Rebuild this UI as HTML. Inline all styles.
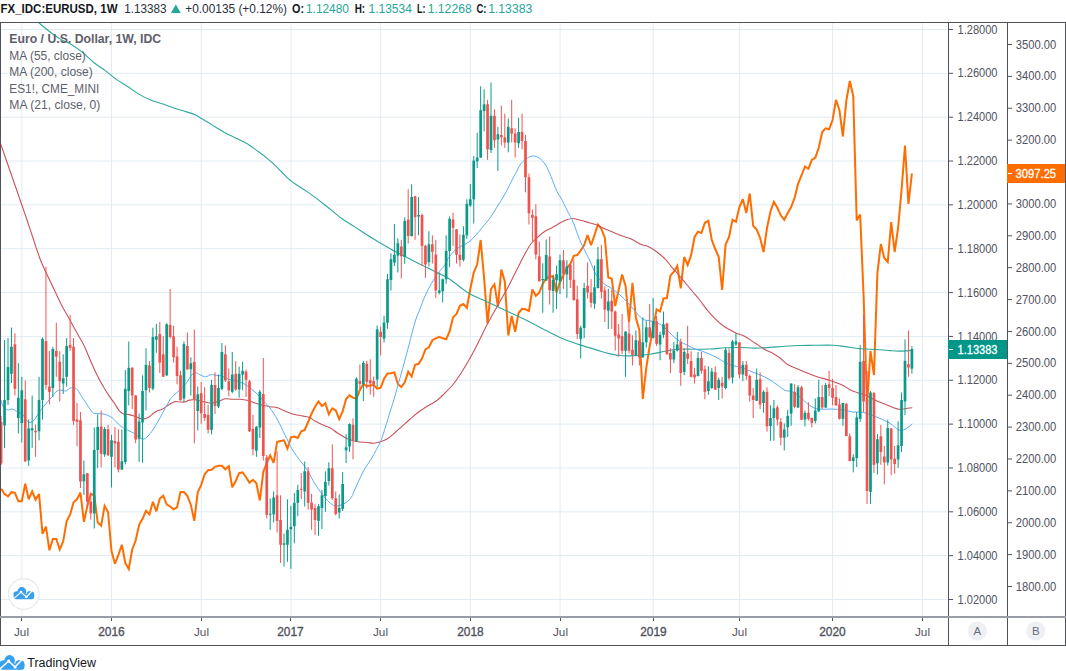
<!DOCTYPE html>
<html><head><meta charset="utf-8"><title>EURUSD 1W chart</title>
<style>
html,body{margin:0;padding:0;background:#fff;}
body{width:1066px;height:671px;overflow:hidden;position:relative;}
svg{position:absolute;left:0;top:0;display:block;}
text{font-family:'Liberation Sans', Arial, sans-serif;}
</style></head><body>
<svg width="1066" height="671" viewBox="0 0 1066 671">
<rect x="0" y="0" width="1066" height="671" fill="#ffffff"/>

<defs><clipPath id="pane"><rect x="1" y="23" width="947" height="594"/></clipPath></defs>
<g stroke="#e1ecf2" stroke-width="1"><line x1="1" y1="29.50" x2="948" y2="29.50"/><line x1="1" y1="73.35" x2="948" y2="73.35"/><line x1="1" y1="117.19" x2="948" y2="117.19"/><line x1="1" y1="161.04" x2="948" y2="161.04"/><line x1="1" y1="204.88" x2="948" y2="204.88"/><line x1="1" y1="248.73" x2="948" y2="248.73"/><line x1="1" y1="292.58" x2="948" y2="292.58"/><line x1="1" y1="336.42" x2="948" y2="336.42"/><line x1="1" y1="380.27" x2="948" y2="380.27"/><line x1="1" y1="424.11" x2="948" y2="424.11"/><line x1="1" y1="467.96" x2="948" y2="467.96"/><line x1="1" y1="511.81" x2="948" y2="511.81"/><line x1="1" y1="555.65" x2="948" y2="555.65"/><line x1="1" y1="599.50" x2="948" y2="599.50"/><line x1="21.85" y1="23" x2="21.85" y2="617"/><line x1="111.55" y1="23" x2="111.55" y2="617"/><line x1="201.25" y1="23" x2="201.25" y2="617"/><line x1="290.95" y1="23" x2="290.95" y2="617"/><line x1="380.65" y1="23" x2="380.65" y2="617"/><line x1="470.35" y1="23" x2="470.35" y2="617"/><line x1="560.05" y1="23" x2="560.05" y2="617"/><line x1="653.20" y1="23" x2="653.20" y2="617"/><line x1="739.45" y1="23" x2="739.45" y2="617"/><line x1="832.60" y1="23" x2="832.60" y2="617"/><line x1="922.30" y1="23" x2="922.30" y2="617"/></g>
<g clip-path="url(#pane)">
<polyline points="1.10,488.8 4.55,494.0 8.00,496.3 11.45,492.2 14.90,492.8 18.35,501.2 21.80,501.2 25.25,483.8 28.70,499.3 32.15,491.3 35.60,499.7 39.05,494.0 42.50,533.8 45.95,526.7 49.40,550.3 52.85,539.0 56.30,539.0 59.75,549.5 63.20,541.3 66.65,521.0 70.10,514.7 73.55,502.3 77.00,499.3 80.45,492.5 83.90,521.8 87.35,506.0 90.80,494.0 94.25,495.0 97.70,522.5 101.15,525.8 104.60,506.0 108.05,512.0 111.50,551.0 114.95,563.8 118.40,554.8 121.85,544.7 125.30,563.0 128.75,569.0 132.20,549.5 135.65,540.5 139.10,524.8 142.55,518.8 146.00,510.8 149.45,514.3 152.90,501.8 156.35,511.3 159.80,498.5 163.25,495.7 166.70,504.3 170.15,506.5 173.60,509.2 177.05,507.3 180.50,492.0 183.95,492.0 187.40,496.0 190.85,505.0 194.30,520.8 197.75,492.3 201.20,484.8 204.65,474.3 208.10,470.2 211.55,469.8 215.00,466.8 218.45,465.7 221.90,465.7 225.35,469.3 228.80,466.3 232.25,487.3 235.70,481.0 239.15,473.2 242.60,472.3 246.05,477.3 249.50,482.8 252.95,479.8 256.40,483.3 259.85,500.5 263.30,472.0 266.75,463.0 270.20,455.3 273.65,462.8 277.10,441.8 280.55,441.0 284.00,440.3 287.45,448.5 290.90,437.3 294.35,436.5 297.80,438.0 301.25,431.3 304.70,430.0 308.15,422.0 311.60,413.5 315.05,406.8 318.50,401.5 321.95,406.0 325.40,403.3 328.85,414.3 332.30,408.3 335.75,410.5 339.20,419.2 342.65,411.3 346.10,399.0 349.55,395.3 353.00,397.6 356.45,399.0 359.90,390.0 363.35,384.0 366.80,386.3 370.25,385.5 373.70,384.8 377.15,388.6 380.60,387.8 384.05,378.8 387.50,373.5 390.95,373.2 394.40,372.5 397.85,384.0 401.30,387.0 404.75,382.3 408.20,371.7 411.65,376.5 415.10,364.8 418.55,363.8 422.00,358.5 425.45,349.5 428.90,347.3 432.35,340.2 435.80,338.3 439.25,336.8 442.70,338.3 446.15,339.3 449.60,331.5 453.05,317.4 456.50,314.0 459.95,305.8 463.40,304.0 466.85,307.8 470.30,289.0 473.75,272.5 477.20,264.3 480.65,240.0 484.10,278.0 487.55,323.5 491.00,289.0 494.45,284.2 497.90,306.3 501.35,269.5 504.80,281.5 508.25,335.5 511.70,316.0 515.15,331.8 518.60,313.0 522.05,308.8 525.50,309.3 528.95,311.0 532.40,289.5 535.85,295.8 539.30,292.5 542.75,284.0 546.20,278.3 549.65,277.0 553.10,276.0 556.55,292.5 560.00,282.0 563.45,275.0 566.90,267.8 570.35,264.0 573.80,255.8 577.25,255.0 580.70,250.5 584.15,245.0 587.60,235.0 591.05,245.3 594.50,235.0 597.95,224.5 601.40,229.0 604.85,238.0 608.30,277.5 611.75,278.7 615.20,306.0 618.65,290.0 622.10,274.5 625.55,285.8 629.00,321.8 632.45,282.8 635.90,318.0 639.35,330.0 642.80,399.0 646.25,368.0 649.70,346.0 653.15,328.0 656.60,309.3 660.05,311.5 663.50,298.5 666.95,298.0 670.40,275.7 673.85,271.7 677.30,265.9 680.75,288.3 684.20,257.0 687.65,265.0 691.10,255.2 694.55,237.0 698.00,231.8 701.45,232.9 704.90,222.8 708.35,220.8 711.80,240.0 715.25,249.0 718.70,257.0 722.15,290.0 725.60,244.5 729.05,237.0 732.50,219.8 735.95,221.7 739.40,207.0 742.85,199.2 746.30,213.0 749.75,193.5 753.20,225.8 756.65,229.5 760.10,237.8 763.55,252.0 767.00,228.0 770.45,211.5 773.90,201.8 777.35,207.8 780.80,215.3 784.25,219.8 787.70,213.0 791.15,207.0 794.60,198.0 798.05,183.8 801.50,175.5 804.95,166.5 808.40,168.8 811.85,160.0 815.30,157.6 818.75,147.8 822.20,132.0 825.65,128.3 829.10,129.3 832.55,120.0 836.00,99.8 839.45,110.3 842.90,136.5 846.35,100.5 849.80,81.0 853.25,96.0 856.70,220.5 860.15,214.5 863.60,296.0 867.05,405.0 870.50,351.0 873.95,375.0 877.40,273.0 880.85,244.0 884.30,258.0 887.75,262.0 891.20,222.0 894.65,252.0 898.10,228.0 901.55,190.0 905.00,145.5 908.45,204.0 911.90,173.5" fill="none" stroke="#ff6d00" stroke-width="2" stroke-linejoin="miter" stroke-miterlimit="3"/>
<path d="M38.0 22.0C38.6 22.5 39.5 23.3 41.5 25.0C43.5 26.7 46.9 29.7 50.0 32.0C53.1 34.3 56.5 36.8 60.0 38.9C63.5 41.0 67.5 42.2 71.3 44.5C75.0 46.8 78.8 49.4 82.5 52.4C86.2 55.4 90.0 59.5 93.8 62.5C97.5 65.5 101.2 67.6 105.0 70.4C108.8 73.2 112.5 76.7 116.3 79.4C120.1 82.1 123.8 84.0 127.6 86.5C131.3 89.0 135.1 91.9 138.8 94.1C142.5 96.3 146.2 98.1 150.0 99.7C153.8 101.3 157.5 102.2 161.3 103.5C165.1 104.8 168.8 106.3 172.6 107.6C176.4 108.8 180.2 109.8 183.9 111.0C187.7 112.2 192.1 113.5 195.1 114.8C198.1 116.1 198.9 117.0 201.9 118.8C204.9 120.6 209.4 123.3 213.2 125.6C216.9 127.9 220.7 130.3 224.4 132.4C228.2 134.5 231.9 136.1 235.7 138.0C239.4 139.9 243.2 141.3 246.9 143.6C250.7 145.8 254.8 149.1 258.2 151.5C261.6 153.9 264.2 155.8 267.2 158.3C270.2 160.8 272.3 162.6 276.2 166.3C280.1 170.0 285.4 176.3 290.6 180.6C295.8 184.9 301.6 187.7 307.5 191.9C313.4 196.1 320.7 201.6 326.3 206.0C331.9 210.4 336.6 214.8 341.3 218.2C346.0 221.6 349.1 223.2 354.4 226.6C359.7 230.0 366.9 235.0 373.2 238.8C379.5 242.7 385.8 246.3 392.0 249.7C398.2 253.1 404.4 256.2 410.7 259.4C416.9 262.6 423.2 265.7 429.5 268.8C435.8 271.9 441.8 274.2 448.2 278.2C454.6 282.1 461.9 288.9 467.6 292.5C473.3 296.1 477.6 297.4 482.6 299.8C487.6 302.2 492.6 304.5 497.6 306.8C502.6 309.1 507.2 311.3 512.6 313.8C518.0 316.3 524.4 319.3 529.8 322.0C535.2 324.7 540.0 327.4 545.0 330.0C550.0 332.6 556.0 335.6 560.0 337.5C564.0 339.4 565.6 339.8 569.0 341.1C572.4 342.4 576.1 343.7 580.6 345.1C585.1 346.5 590.9 348.2 595.7 349.6C600.5 351.0 604.7 352.6 609.2 353.6C613.7 354.6 618.1 355.4 622.6 355.7C627.1 356.0 631.4 355.8 636.0 355.6C640.6 355.4 645.2 355.0 650.0 354.3C654.8 353.6 660.0 352.2 665.0 351.3C670.0 350.4 675.0 349.3 680.0 349.0C685.0 348.7 690.0 349.3 695.0 349.3C700.0 349.3 705.0 349.2 710.0 349.0C715.0 348.8 720.0 348.1 725.0 347.8C730.0 347.6 735.0 347.4 740.0 347.5C745.0 347.6 750.0 348.1 755.0 348.1C760.0 348.1 765.0 347.7 770.0 347.4C775.0 347.1 780.0 346.6 785.0 346.3C790.0 346.0 795.0 345.7 800.0 345.5C805.0 345.3 809.5 345.4 815.0 345.3C820.5 345.2 828.0 345.0 833.0 345.2C838.0 345.4 840.5 346.0 845.0 346.6C849.5 347.2 854.8 348.3 860.0 348.8C865.2 349.3 871.0 349.2 876.0 349.5C881.0 349.8 886.2 350.3 890.0 350.6C893.8 350.9 895.3 351.1 899.0 351.1C902.7 351.1 910.1 350.6 912.3 350.5" fill="none" stroke="#2fa89c" stroke-width="1.1"/>
<path d="M0.0 143.0C0.2 143.4 -0.8 139.9 1.2 145.5C3.2 151.1 8.6 166.9 11.9 176.3C15.2 185.8 18.4 194.9 20.9 202.2C23.4 209.5 25.0 214.0 27.0 220.0C29.0 226.0 30.8 231.3 33.0 238.0C35.2 244.7 38.2 254.1 40.5 260.0C42.8 265.9 44.2 268.6 46.5 273.5C48.8 278.4 51.5 284.1 54.0 289.3C56.5 294.6 59.0 300.1 61.5 305.0C64.0 309.9 66.5 314.0 69.0 318.5C71.5 323.0 74.0 327.5 76.5 332.0C79.0 336.5 81.8 341.0 84.0 345.6C86.2 350.2 87.8 354.4 90.0 359.5C92.2 364.6 95.0 371.0 97.5 376.0C100.0 381.0 102.9 386.0 105.0 389.5C107.1 393.0 108.4 394.8 110.0 397.1C111.6 399.4 113.0 401.3 114.5 403.5C116.0 405.7 117.5 408.6 119.0 410.3C120.5 412.1 122.0 413.3 123.5 414.0C125.0 414.7 126.2 414.1 128.0 414.4C129.8 414.7 132.0 415.2 134.0 415.9C136.0 416.6 138.2 417.9 140.0 418.4C141.8 418.9 143.0 419.1 144.5 418.9C146.0 418.7 147.5 417.9 149.0 417.0C150.5 416.1 152.0 414.4 153.5 413.3C155.0 412.2 156.5 411.3 158.0 410.6C159.5 409.9 161.0 409.9 162.5 409.1C164.0 408.4 165.5 407.1 167.0 406.1C168.5 405.1 170.1 403.9 171.5 403.1C172.9 402.4 173.8 401.8 175.3 401.6C176.8 401.4 178.9 401.9 180.5 402.0C182.1 402.1 183.5 402.3 185.0 402.0C186.5 401.7 187.8 400.5 189.5 400.1C191.2 399.7 192.8 399.6 195.0 399.8C197.2 400.0 200.0 401.0 202.5 401.5C205.0 402.0 207.5 402.9 210.0 403.0C212.5 403.1 215.0 402.5 217.5 401.8C220.0 401.1 222.5 399.2 225.0 398.8C227.5 398.4 230.0 399.2 232.5 399.3C235.0 399.4 237.6 399.1 240.0 399.3C242.4 399.5 244.5 399.7 247.0 400.3C249.5 400.9 252.4 402.2 255.0 403.0C257.6 403.8 260.1 404.6 262.6 405.2C265.1 405.8 267.5 406.3 270.0 406.7C272.5 407.1 275.1 407.1 277.6 407.8C280.1 408.5 282.5 410.0 285.0 411.0C287.5 412.0 290.1 413.2 292.6 414.0C295.1 414.8 297.3 414.9 300.0 415.5C302.7 416.1 306.5 416.4 309.0 417.3C311.5 418.2 312.8 419.8 315.0 421.0C317.2 422.2 320.0 423.7 322.5 424.8C325.0 425.9 327.5 426.4 330.0 427.8C332.5 429.2 335.0 431.4 337.5 433.0C340.0 434.6 342.5 436.2 345.0 437.5C347.5 438.8 350.0 439.8 352.5 440.5C355.0 441.2 357.5 441.7 360.0 442.0C362.5 442.3 365.2 442.3 367.5 442.5C369.8 442.7 371.5 443.3 373.5 443.2C375.5 443.1 377.2 442.7 379.5 442.0C381.8 441.3 384.5 440.5 387.0 439.0C389.5 437.5 392.1 435.1 394.6 433.0C397.1 430.9 399.5 428.6 402.0 426.3C404.5 424.1 406.8 421.9 409.6 419.5C412.4 417.1 415.6 414.2 418.6 412.0C421.6 409.8 424.6 407.9 427.6 406.0C430.6 404.1 434.2 402.6 436.6 400.8C439.1 399.1 439.5 398.3 442.3 395.5C445.1 392.7 449.8 388.7 453.5 384.0C457.2 379.3 461.0 373.4 464.7 367.3C468.4 361.2 472.2 354.3 475.9 347.2C479.6 340.1 483.3 331.9 487.0 324.8C490.7 317.7 494.5 311.4 498.2 304.7C501.9 298.0 505.7 291.7 509.4 284.6C513.1 277.5 517.2 268.7 520.6 262.2C524.0 255.7 527.0 249.7 529.8 245.5C532.6 241.3 535.0 239.7 537.5 237.3C540.0 234.9 542.5 232.9 545.0 231.3C547.5 229.7 550.0 228.9 552.5 227.5C555.0 226.1 557.8 224.2 560.0 223.0C562.2 221.8 563.8 220.8 566.0 220.0C568.2 219.2 570.8 218.4 573.5 218.5C576.2 218.6 579.8 220.1 582.5 220.8C585.2 221.6 587.5 222.2 590.0 223.0C592.5 223.8 595.1 224.3 597.6 225.3C600.1 226.3 602.5 227.9 605.0 229.0C607.5 230.1 609.8 230.9 612.6 232.0C615.4 233.1 618.6 234.7 621.6 235.8C624.6 236.9 627.4 237.4 630.6 238.8C633.8 240.2 638.2 243.3 641.0 244.5C643.8 245.7 645.4 245.4 647.5 246.2C649.6 247.0 651.5 248.2 653.5 249.5C655.5 250.8 657.5 252.4 659.5 254.0C661.5 255.6 663.5 257.2 665.5 259.3C667.5 261.4 669.5 264.4 671.5 266.8C673.5 269.2 675.2 270.9 677.5 273.5C679.8 276.1 682.5 279.5 685.0 282.5C687.5 285.5 690.0 288.5 692.5 291.5C695.0 294.5 697.5 297.4 700.0 300.5C702.5 303.6 705.0 307.3 707.5 310.3C710.0 313.3 712.5 316.1 715.0 318.6C717.5 321.1 720.1 323.4 722.6 325.3C725.1 327.2 727.6 328.6 730.0 330.0C732.4 331.4 734.6 332.4 737.0 333.5C739.4 334.6 741.6 334.7 744.6 336.3C747.6 337.9 751.8 340.9 755.0 343.0C758.2 345.1 761.0 347.2 764.0 349.0C767.0 350.8 770.3 352.0 773.0 353.5C775.7 355.0 777.5 356.1 780.0 358.0C782.5 359.9 784.7 362.8 788.0 364.8C791.3 366.8 795.5 368.1 800.0 370.0C804.5 371.9 810.0 374.2 815.0 376.0C820.0 377.8 825.5 379.0 830.0 380.5C834.5 382.0 838.5 383.4 842.0 385.0C845.5 386.6 848.5 389.1 851.0 390.3C853.5 391.6 854.5 391.6 857.0 392.5C859.5 393.4 863.0 394.2 866.0 395.5C869.0 396.8 872.0 398.6 875.0 400.0C878.0 401.4 881.0 402.6 884.0 403.8C887.0 405.1 890.5 406.6 893.0 407.5C895.5 408.4 897.0 409.1 899.0 409.3C901.0 409.5 902.8 408.9 905.0 408.7C907.2 408.4 911.1 407.9 912.3 407.8" fill="none" stroke="#c9535a" stroke-width="1.1"/>
<path d="M1.0 400.0C1.3 401.0 1.9 404.4 3.0 406.0C4.1 407.6 6.0 409.3 7.5 409.8C9.0 410.3 10.5 408.8 12.0 409.0C13.5 409.2 14.8 410.4 16.5 411.3C18.2 412.2 20.8 412.7 22.5 414.3C24.2 415.9 25.8 419.6 27.0 421.0C28.2 422.4 28.8 422.9 30.0 422.6C31.2 422.4 32.8 421.5 34.5 419.5C36.2 417.5 38.5 413.2 40.5 410.5C42.5 407.8 44.5 405.4 46.5 403.0C48.5 400.6 50.8 398.3 52.5 396.3C54.2 394.3 55.2 392.0 57.0 391.0C58.8 390.0 61.5 390.3 63.0 390.3C64.5 390.3 64.8 391.4 66.0 391.0C67.2 390.6 68.8 388.4 70.5 388.0C72.2 387.6 74.8 387.6 76.5 388.8C78.2 390.1 79.2 392.9 81.0 395.5C82.8 398.1 85.0 401.6 87.0 404.5C89.0 407.4 91.2 411.3 93.0 412.8C94.8 414.3 95.5 413.2 97.5 413.5C99.5 413.8 102.5 413.6 105.0 414.3C107.5 415.1 110.0 416.1 112.5 418.0C115.0 419.9 117.5 423.6 120.0 425.6C122.5 427.6 125.1 428.6 127.6 430.0C130.1 431.4 133.0 432.5 135.0 433.8C137.0 435.1 138.1 436.7 139.6 437.6C141.1 438.5 142.6 439.3 144.0 439.0C145.4 438.7 146.5 437.5 148.0 436.0C149.5 434.5 151.1 432.4 152.8 430.0C154.5 427.6 156.4 424.3 158.0 421.5C159.6 418.7 161.0 416.1 162.5 413.3C164.0 410.6 165.5 407.6 167.0 405.0C168.5 402.4 170.0 399.4 171.5 397.5C173.0 395.6 174.8 394.5 176.0 393.4C177.2 392.3 177.3 392.4 179.0 390.8C180.7 389.2 183.8 386.2 186.0 383.5C188.2 380.8 190.2 376.2 192.0 374.5C193.8 372.8 195.0 372.9 196.5 373.0C198.0 373.1 199.5 374.7 201.0 375.3C202.5 375.9 203.8 376.9 205.5 376.8C207.2 376.7 209.8 374.8 211.5 374.5C213.2 374.2 214.2 375.1 216.0 375.3C217.8 375.6 220.0 375.4 222.0 376.0C224.0 376.6 226.0 378.2 228.0 379.0C230.0 379.8 232.0 380.0 234.0 380.5C236.0 381.0 238.0 381.2 240.0 382.0C242.0 382.8 244.0 383.8 246.0 385.0C248.0 386.2 250.0 387.9 252.0 389.5C254.0 391.1 256.0 392.8 258.0 394.8C260.0 396.8 262.0 399.4 264.0 401.6C266.0 403.8 267.7 404.9 270.0 408.0C272.3 411.1 275.1 415.5 277.6 420.0C280.1 424.5 282.5 430.0 285.0 435.0C287.5 440.0 290.1 445.8 292.6 450.0C295.1 454.2 297.5 457.1 300.0 460.5C302.5 463.9 305.0 466.6 307.5 470.5C310.0 474.4 312.5 480.0 315.0 484.0C317.5 488.0 320.2 491.6 322.5 494.6C324.8 497.6 326.9 500.1 329.0 502.0C331.1 503.9 333.0 505.3 335.0 505.8C337.0 506.3 339.0 505.6 341.0 505.0C343.0 504.4 345.2 503.3 347.0 502.0C348.8 500.7 350.2 499.0 351.5 497.0C352.8 495.0 352.7 494.2 354.6 490.0C356.5 485.8 360.4 477.0 363.0 472.0C365.6 467.0 368.2 463.8 370.5 460.0C372.8 456.2 374.8 452.8 376.5 449.5C378.2 446.2 379.5 444.2 381.0 440.5C382.5 436.8 384.0 431.8 385.5 427.0C387.0 422.2 388.6 416.5 390.0 412.0C391.4 407.5 392.1 405.7 393.8 400.0C395.5 394.3 398.1 384.7 400.0 378.0C401.9 371.3 403.5 365.5 405.0 360.0C406.5 354.5 407.3 351.3 409.0 345.0C410.7 338.7 413.2 328.0 415.0 322.0C416.8 316.0 418.3 313.3 420.0 309.0C421.7 304.7 423.3 299.8 425.0 296.0C426.7 292.2 428.2 289.3 430.0 286.0C431.8 282.7 434.2 279.0 436.0 276.3C437.8 273.6 439.0 271.9 440.5 270.0C442.0 268.1 443.8 266.9 445.0 265.0C446.2 263.1 446.8 260.6 448.0 258.6C449.2 256.6 451.2 254.5 452.5 253.0C453.8 251.5 453.9 250.8 455.6 249.5C457.4 248.2 460.8 246.2 463.0 245.0C465.2 243.8 467.0 243.5 469.0 242.0C471.0 240.5 472.7 238.5 475.0 236.0C477.3 233.5 480.1 230.0 482.6 227.0C485.1 224.0 487.5 221.5 490.0 218.0C492.5 214.5 495.1 210.0 497.6 206.0C500.1 202.0 502.5 198.5 505.0 194.0C507.5 189.5 510.6 182.8 512.6 179.0C514.6 175.2 515.8 173.3 517.0 171.0C518.2 168.7 518.5 167.0 520.0 165.0C521.5 163.0 523.9 160.5 526.0 159.0C528.1 157.5 530.5 156.1 532.8 156.0C535.0 155.9 537.4 156.8 539.5 158.3C541.6 159.8 543.7 162.0 545.6 165.0C547.5 168.0 549.1 172.1 551.0 176.5C552.9 180.9 555.2 187.8 557.0 191.5C558.8 195.2 559.8 195.8 561.5 199.0C563.2 202.2 565.5 207.0 567.5 211.0C569.5 215.0 571.5 218.2 573.5 223.0C575.5 227.8 577.5 234.7 579.5 239.5C581.5 244.3 583.8 248.4 585.5 252.0C587.2 255.6 588.2 257.2 590.0 261.0C591.8 264.8 593.7 270.8 596.0 274.5C598.3 278.2 601.1 281.2 603.6 283.5C606.1 285.8 608.3 286.1 611.0 288.0C613.7 289.9 617.2 292.6 620.0 295.0C622.8 297.4 625.0 299.8 627.5 302.5C630.0 305.2 632.5 308.2 635.0 311.0C637.5 313.8 640.0 317.4 642.5 319.0C645.0 320.6 647.5 320.2 650.0 320.8C652.5 321.4 655.0 321.6 657.5 322.8C660.0 324.0 662.5 325.9 665.0 328.0C667.5 330.1 670.0 333.2 672.5 335.5C675.0 337.8 677.5 339.9 680.0 341.5C682.5 343.1 685.0 344.1 687.5 345.3C690.0 346.6 692.5 348.0 695.0 349.0C697.5 350.0 700.0 350.4 702.5 351.3C705.0 352.2 707.5 353.2 710.0 354.3C712.5 355.4 715.1 356.6 717.6 358.0C720.1 359.4 722.5 361.2 725.0 362.5C727.5 363.8 730.1 364.9 732.6 365.6C735.1 366.4 737.5 366.3 740.0 367.0C742.5 367.7 745.1 369.0 747.6 370.0C750.1 371.0 752.5 372.0 755.0 373.0C757.5 374.0 760.1 374.8 762.6 376.0C765.1 377.2 767.5 378.5 770.0 380.0C772.5 381.5 775.0 383.3 777.5 385.0C780.0 386.7 782.5 389.2 785.0 390.3C787.5 391.4 790.0 390.7 792.5 391.8C795.0 392.9 797.5 395.0 800.0 397.0C802.5 399.0 805.0 401.9 807.5 403.8C810.0 405.7 812.5 407.4 815.0 408.3C817.5 409.2 820.0 409.2 822.5 409.3C825.0 409.4 827.5 409.0 830.0 409.0C832.5 409.0 835.0 409.1 837.5 409.3C840.0 409.5 842.5 409.8 845.0 410.2C847.5 410.6 850.1 411.7 852.6 412.0C855.1 412.3 857.5 411.8 860.0 412.0C862.5 412.2 865.1 412.8 867.6 413.5C870.1 414.2 872.5 415.5 875.0 416.5C877.5 417.5 880.1 418.4 882.6 419.5C885.1 420.6 888.0 422.1 890.0 423.3C892.0 424.6 893.1 425.9 894.6 427.0C896.1 428.1 897.3 429.6 899.0 430.0C900.7 430.4 902.8 430.3 905.0 429.3C907.2 428.3 911.1 424.9 912.3 424.0" fill="none" stroke="#5aaff5" stroke-width="1.0"/>
<path d="M4.55 340.0V448.0M8.00 338.0V405.0M11.45 327.6V383.0M18.35 363.3V433.5M21.80 376.8V442.5M28.70 419.5V465.8M32.15 395.5V447.8M39.05 376.8V440.3M42.50 337.4V419.5M52.85 347.1V397.0M63.20 354.3V394.0M66.65 338.1V386.5M83.90 460.5V495.0M94.25 427.5V528.5M97.70 414.3V468.0M104.60 427.0V456.8M111.50 434.8V487.4M121.85 429.5V470.0M125.30 370.0V464.3M128.75 341.5V405.3M139.10 413.5V462.0M142.55 375.3V462.8M146.00 348.3V410.5M152.90 327.7V390.3M156.35 323.8V352.8M166.70 323.2V376.0M183.95 341.5V402.0M190.85 357.3V395.5M197.75 386.5V430.5M211.55 379.8V434.3M218.45 374.5V408.0M221.90 343.0V390.3M232.25 352.0V393.3M239.15 366.7V397.6M242.60 361.8V390.3M256.40 426.0V456.8M259.85 390.0V438.0M270.20 498.3V529.8M273.65 491.5V522.3M284.00 533.5V566.5M287.45 499.3V561.7M290.90 505.8V568.8M294.35 493.0V543.3M297.80 484.8V516.3M304.70 461.5V506.5M318.50 504.3V535.8M321.95 490.0V529.0M325.40 471.3V511.8M328.85 462.3V485.6M339.20 494.5V518.5M342.65 472.0V511.0M346.10 434.2V463.0M349.55 423.3V451.8M356.45 377.3V442.0M363.35 360.8V401.0M377.15 325.5V387.0M384.05 315.8V342.5M387.50 274.0V328.8M390.95 253.3V290.5M394.40 224.0V266.0M397.85 238.3V272.5M404.75 217.3V263.8M411.65 184.3V236.5M418.55 197.0V235.3M428.90 231.2V266.5M439.25 272.5V294.3M442.70 278.5V302.5M446.15 235.3V283.8M449.60 216.5V267.3M463.40 226.3V261.5M466.85 199.3V239.0M470.30 184.0V207.0M473.75 156.0V223.5M477.20 132.8V168.0M480.65 86.3V158.0M484.10 89.3V131.3M491.00 82.5V153.0M497.90 126.8V171.0M508.25 118.5V152.3M518.60 117.8V147.8M542.75 263.3V312.8M546.20 239.5V281.0M553.10 276.0V312.8M556.55 265.5V309.0M560.00 254.6V294.0M566.90 260.3V297.8M580.70 325.7V358.5M584.15 282.8V338.0M594.50 265.5V308.8M597.95 247.0V288.5M608.30 288.8V329.0M625.55 331.0V376.8M635.90 330.4V355.5M642.80 317.5V358.0M646.25 320.5V347.5M653.15 298.0V338.5M660.05 331.8V360.3M663.50 311.5V337.8M673.85 342.3V363.3M677.30 331.8V351.5M684.20 348.3V375.3M698.00 352.0V376.5M708.35 366.3V394.8M711.80 367.8V389.0M718.70 377.6V400.0M725.60 347.5V389.5M732.50 340.0V383.5M735.95 333.3V346.0M742.85 361.0V381.3M756.65 368.5V401.0M763.55 390.3V412.8M770.45 405.3V440.8M773.90 400.0V440.8M784.25 423.3V450.5M787.70 409.8V437.0M791.15 383.5V425.7M798.05 385.0V408.0M804.95 410.5V426.4M815.30 398.5V423.4M818.75 379.8V412.0M825.65 382.8V408.0M842.90 403.0V425.7M853.25 454.3V472.3M856.70 412.0V467.0M860.15 345.0V421.8M870.50 391.0V503.8M877.40 434.0V474.5M887.75 419.8V465.5M898.10 421.3V467.8M901.55 392.5V452.0M905.00 339.4V415.0M911.90 346.2V373.7" stroke="#0a9a8a" stroke-width="1" fill="none"/>
<g fill="#0a9a8a"><rect x="3.20" y="400.0" width="2.7" height="25.5"/><rect x="6.65" y="367.0" width="2.7" height="33.0"/><rect x="10.10" y="346.8" width="2.7" height="27.0"/><rect x="17.00" y="397.8" width="2.7" height="20.2"/><rect x="20.45" y="390.3" width="2.7" height="32.7"/><rect x="27.35" y="428.3" width="2.7" height="32.2"/><rect x="30.80" y="428.3" width="2.7" height="2.2"/><rect x="37.70" y="400.0" width="2.7" height="31.3"/><rect x="41.15" y="338.9" width="2.7" height="61.1"/><rect x="51.50" y="349.0" width="2.7" height="39.0"/><rect x="61.85" y="378.3" width="2.7" height="5.2"/><rect x="65.30" y="346.0" width="2.7" height="30.8"/><rect x="82.55" y="474.3" width="2.7" height="7.1"/><rect x="92.90" y="450.0" width="2.7" height="63.4"/><rect x="96.35" y="426.8" width="2.7" height="23.2"/><rect x="103.25" y="429.0" width="2.7" height="25.5"/><rect x="110.15" y="440.3" width="2.7" height="16.5"/><rect x="120.50" y="461.3" width="2.7" height="8.2"/><rect x="123.95" y="388.8" width="2.7" height="73.2"/><rect x="127.40" y="367.8" width="2.7" height="23.2"/><rect x="137.75" y="421.5" width="2.7" height="17.3"/><rect x="141.20" y="391.0" width="2.7" height="31.5"/><rect x="144.65" y="364.8" width="2.7" height="25.5"/><rect x="151.55" y="337.0" width="2.7" height="51.8"/><rect x="155.00" y="336.3" width="2.7" height="3.4"/><rect x="165.35" y="324.3" width="2.7" height="51.0"/><rect x="182.60" y="344.2" width="2.7" height="54.3"/><rect x="189.50" y="363.3" width="2.7" height="6.0"/><rect x="196.40" y="394.3" width="2.7" height="16.7"/><rect x="210.20" y="385.0" width="2.7" height="44.8"/><rect x="217.10" y="388.0" width="2.7" height="18.5"/><rect x="220.55" y="352.0" width="2.7" height="36.8"/><rect x="230.90" y="374.5" width="2.7" height="17.3"/><rect x="237.80" y="373.8" width="2.7" height="15.7"/><rect x="241.25" y="370.8" width="2.7" height="3.7"/><rect x="255.05" y="426.8" width="2.7" height="24.0"/><rect x="258.50" y="391.8" width="2.7" height="35.7"/><rect x="268.85" y="513.7" width="2.7" height="1.0"/><rect x="272.30" y="497.5" width="2.7" height="16.8"/><rect x="282.65" y="543.3" width="2.7" height="1.5"/><rect x="286.10" y="529.8" width="2.7" height="15.0"/><rect x="289.55" y="526.8" width="2.7" height="2.5"/><rect x="293.00" y="502.8" width="2.7" height="23.5"/><rect x="296.45" y="490.0" width="2.7" height="12.8"/><rect x="303.35" y="471.3" width="2.7" height="20.2"/><rect x="317.15" y="506.2" width="2.7" height="14.6"/><rect x="320.60" y="495.3" width="2.7" height="12.7"/><rect x="324.05" y="481.8" width="2.7" height="14.2"/><rect x="327.50" y="468.3" width="2.7" height="12.7"/><rect x="337.85" y="508.0" width="2.7" height="4.5"/><rect x="341.30" y="484.0" width="2.7" height="24.8"/><rect x="344.75" y="447.3" width="2.7" height="3.0"/><rect x="348.20" y="424.0" width="2.7" height="22.5"/><rect x="355.10" y="378.8" width="2.7" height="62.5"/><rect x="362.00" y="363.0" width="2.7" height="21.0"/><rect x="375.80" y="329.3" width="2.7" height="50.2"/><rect x="382.70" y="322.5" width="2.7" height="16.0"/><rect x="386.15" y="279.3" width="2.7" height="43.5"/><rect x="389.60" y="259.2" width="2.7" height="20.8"/><rect x="393.05" y="254.8" width="2.7" height="7.7"/><rect x="396.50" y="243.2" width="2.7" height="12.4"/><rect x="403.40" y="221.0" width="2.7" height="36.0"/><rect x="410.30" y="197.0" width="2.7" height="39.0"/><rect x="417.20" y="215.0" width="2.7" height="1.5"/><rect x="427.55" y="244.3" width="2.7" height="17.9"/><rect x="437.90" y="290.5" width="2.7" height="2.3"/><rect x="441.35" y="279.3" width="2.7" height="12.0"/><rect x="444.80" y="251.0" width="2.7" height="28.3"/><rect x="448.25" y="218.8" width="2.7" height="32.2"/><rect x="462.05" y="234.8" width="2.7" height="25.0"/><rect x="465.50" y="203.8" width="2.7" height="31.5"/><rect x="468.95" y="199.3" width="2.7" height="6.2"/><rect x="472.40" y="160.6" width="2.7" height="38.7"/><rect x="475.85" y="157.6" width="2.7" height="3.7"/><rect x="479.30" y="110.3" width="2.7" height="47.3"/><rect x="482.75" y="104.3" width="2.7" height="6.7"/><rect x="489.65" y="115.8" width="2.7" height="34.2"/><rect x="496.55" y="134.3" width="2.7" height="5.2"/><rect x="506.90" y="126.8" width="2.7" height="15.7"/><rect x="517.25" y="132.0" width="2.7" height="11.3"/><rect x="541.40" y="279.0" width="2.7" height="1.2"/><rect x="544.85" y="255.0" width="2.7" height="25.5"/><rect x="551.75" y="279.8" width="2.7" height="11.2"/><rect x="555.20" y="274.2" width="2.7" height="6.0"/><rect x="558.65" y="260.3" width="2.7" height="21.0"/><rect x="565.55" y="266.3" width="2.7" height="8.2"/><rect x="579.35" y="327.7" width="2.7" height="11.2"/><rect x="582.80" y="288.0" width="2.7" height="40.0"/><rect x="593.15" y="287.3" width="2.7" height="16.4"/><rect x="596.60" y="259.2" width="2.7" height="28.8"/><rect x="606.95" y="301.5" width="2.7" height="9.2"/><rect x="624.20" y="331.7" width="2.7" height="19.1"/><rect x="634.55" y="340.2" width="2.7" height="14.8"/><rect x="641.45" y="342.3" width="2.7" height="15.0"/><rect x="644.90" y="327.3" width="2.7" height="15.0"/><rect x="651.80" y="321.3" width="2.7" height="16.5"/><rect x="658.70" y="334.8" width="2.7" height="9.7"/><rect x="662.15" y="324.3" width="2.7" height="10.5"/><rect x="672.50" y="350.5" width="2.7" height="9.0"/><rect x="675.95" y="344.5" width="2.7" height="6.0"/><rect x="682.85" y="352.0" width="2.7" height="20.0"/><rect x="696.65" y="358.0" width="2.7" height="18.0"/><rect x="707.00" y="381.3" width="2.7" height="9.7"/><rect x="710.45" y="371.5" width="2.7" height="16.5"/><rect x="717.35" y="379.8" width="2.7" height="8.2"/><rect x="724.25" y="349.8" width="2.7" height="38.2"/><rect x="731.15" y="341.5" width="2.7" height="36.0"/><rect x="734.60" y="341.5" width="2.7" height="3.0"/><rect x="741.50" y="364.8" width="2.7" height="9.7"/><rect x="755.30" y="379.8" width="2.7" height="21.0"/><rect x="762.20" y="391.8" width="2.7" height="11.2"/><rect x="769.10" y="418.0" width="2.7" height="8.0"/><rect x="772.55" y="408.3" width="2.7" height="9.7"/><rect x="782.90" y="429.4" width="2.7" height="8.3"/><rect x="786.35" y="415.9" width="2.7" height="11.3"/><rect x="789.80" y="383.5" width="2.7" height="30.1"/><rect x="796.70" y="387.3" width="2.7" height="20.2"/><rect x="803.60" y="412.8" width="2.7" height="6.8"/><rect x="813.95" y="410.5" width="2.7" height="10.5"/><rect x="817.40" y="397.0" width="2.7" height="14.3"/><rect x="824.30" y="385.0" width="2.7" height="22.5"/><rect x="841.55" y="403.0" width="2.7" height="15.8"/><rect x="851.90" y="457.3" width="2.7" height="3.7"/><rect x="855.35" y="417.3" width="2.7" height="40.7"/><rect x="858.80" y="361.8" width="2.7" height="57.0"/><rect x="869.15" y="392.5" width="2.7" height="99.3"/><rect x="876.05" y="439.3" width="2.7" height="24.0"/><rect x="886.40" y="428.0" width="2.7" height="34.5"/><rect x="896.75" y="445.3" width="2.7" height="14.2"/><rect x="900.20" y="400.0" width="2.7" height="46.0"/><rect x="903.65" y="360.8" width="2.7" height="40.7"/><rect x="910.55" y="349.0" width="2.7" height="19.7"/></g>
<path d="M1.10 416.0V465.0M14.90 333.3V395.5M25.25 380.5V462.0M35.60 424.5V456.8M45.95 266.8V389.5M49.40 350.9V404.5M56.30 322.8V376.8M59.75 351.3V401.5M70.10 314.9V350.9M73.55 338.1V424.8M77.00 403.0V446.3M80.45 412.0V488.0M87.35 473.0V507.3M90.80 492.5V519.5M101.15 410.5V467.3M108.05 424.8V456.0M114.95 426.9V467.3M118.40 429.2V472.4M132.20 367.0V409.0M135.65 395.0V443.3M149.45 361.0V392.5M159.80 322.0V373.0M163.25 336.3V377.0M170.15 289.0V338.5M173.60 325.8V362.5M177.05 346.8V384.3M180.50 370.8V400.5M187.40 332.5V370.0M194.30 329.5V443.3M201.20 382.0V423.8M204.65 387.3V420.8M208.10 404.6V433.5M215.00 372.3V414.0M225.35 345.3V382.0M228.80 368.5V396.2M235.70 361.0V391.0M246.05 369.3V397.0M249.50 379.8V432.0M252.95 414.8V455.3M263.30 358.0V460.5M266.75 455.0V518.5M277.10 451.5V532.5M280.55 495.3V562.8M301.25 473.0V499.0M308.15 467.0V509.5M311.60 493.8V529.8M315.05 504.3V535.0M332.30 444.3V499.8M335.75 491.6V515.5M353.00 418.3V459.3M359.90 364.5V388.6M366.80 360.8V388.6M370.25 359.3V394.6M373.70 376.5V396.8M380.60 326.5V355.5M401.30 239.8V278.5M408.20 189.2V243.5M415.10 195.8V239.8M422.00 213.5V266.0M425.45 245.0V277.8M432.35 235.3V263.5M435.80 239.8V298.0M453.05 212.8V245.8M456.50 229.3V263.5M459.95 234.5V266.5M487.55 99.8V159.8M494.45 109.2V147.8M501.35 105.8V145.5M504.80 113.7V147.8M511.70 99.8V142.5M515.15 128.3V157.6M522.05 113.7V149.3M525.50 135.0V192.3M528.95 173.5V224.5M532.40 209.5V241.0M535.85 204.3V259.5M539.30 241.5V281.5M549.65 236.5V304.5M563.45 250.0V288.8M570.35 263.3V288.0M573.80 259.5V300.8M577.25 285.8V338.9M587.60 262.5V298.5M591.05 279.0V307.6M601.40 244.8V298.5M604.85 286.5V322.0M611.75 289.5V329.0M615.20 310.5V350.5M618.65 324.1V356.7M622.10 314.0V354.3M629.00 320.6V353.5M632.45 335.3V365.6M639.35 339.3V365.5M649.70 304.0V338.0M656.60 316.0V346.0M666.95 322.8V354.5M670.40 348.3V373.0M680.75 338.5V385.8M687.65 325.8V364.0M691.10 351.3V377.5M694.55 367.8V383.5M701.45 352.0V373.8M704.90 365.5V399.3M715.25 366.3V390.0M722.15 376.8V398.5M729.05 348.3V379.8M739.40 342.3V378.3M746.30 361.0V379.8M749.75 374.5V401.5M753.20 388.0V418.0M760.10 372.3V409.0M767.00 387.3V431.6M777.35 405.3V425.5M780.80 418.0V445.3M794.60 384.3V408.3M801.50 385.8V420.0M808.40 402.3V420.5M811.85 417.3V427.3M822.20 385.0V409.0M829.10 370.8V396.3M832.55 379.0V405.3M836.00 385.0V406.0M839.45 398.5V419.5M846.35 403.0V436.3M849.80 433.3V461.5M863.60 314.6V412.0M867.05 371.0V504.0M873.95 392.0V473.0M880.85 425.0V464.8M884.30 446.0V484.3M891.20 428.0V475.3M894.65 446.0V473.8M908.45 330.4V376.8" stroke="#ef5350" stroke-width="1" fill="none"/>
<g fill="#ef5350"><rect x="-0.25" y="422.0" width="2.7" height="41.5"/><rect x="13.55" y="344.3" width="2.7" height="44.5"/><rect x="23.90" y="399.3" width="2.7" height="62.0"/><rect x="34.25" y="430.8" width="2.7" height="1.5"/><rect x="44.60" y="341.1" width="2.7" height="43.9"/><rect x="48.05" y="386.5" width="2.7" height="5.3"/><rect x="54.95" y="350.9" width="2.7" height="5.6"/><rect x="58.40" y="361.8" width="2.7" height="19.5"/><rect x="68.75" y="344.9" width="2.7" height="3.0"/><rect x="72.20" y="346.8" width="2.7" height="74.2"/><rect x="75.65" y="419.5" width="2.7" height="2.3"/><rect x="79.10" y="420.3" width="2.7" height="61.2"/><rect x="86.00" y="473.2" width="2.7" height="28.5"/><rect x="89.45" y="501.7" width="2.7" height="11.6"/><rect x="99.80" y="426.6" width="2.7" height="27.2"/><rect x="106.70" y="429.2" width="2.7" height="26.1"/><rect x="113.60" y="441.0" width="2.7" height="2.3"/><rect x="117.05" y="441.8" width="2.7" height="27.7"/><rect x="130.85" y="367.8" width="2.7" height="27.7"/><rect x="134.30" y="395.5" width="2.7" height="44.0"/><rect x="148.10" y="365.5" width="2.7" height="22.5"/><rect x="158.45" y="334.0" width="2.7" height="28.5"/><rect x="161.90" y="354.3" width="2.7" height="22.5"/><rect x="168.80" y="325.0" width="2.7" height="12.0"/><rect x="172.25" y="336.3" width="2.7" height="21.0"/><rect x="175.70" y="356.5" width="2.7" height="19.5"/><rect x="179.15" y="375.3" width="2.7" height="25.0"/><rect x="186.05" y="346.0" width="2.7" height="23.3"/><rect x="192.95" y="362.0" width="2.7" height="37.5"/><rect x="199.85" y="393.2" width="2.7" height="20.1"/><rect x="203.30" y="414.0" width="2.7" height="3.8"/><rect x="206.75" y="414.8" width="2.7" height="15.0"/><rect x="213.65" y="385.0" width="2.7" height="20.9"/><rect x="224.00" y="354.3" width="2.7" height="26.2"/><rect x="227.45" y="381.3" width="2.7" height="9.0"/><rect x="234.35" y="373.8" width="2.7" height="15.7"/><rect x="244.70" y="371.5" width="2.7" height="8.3"/><rect x="248.15" y="381.3" width="2.7" height="50.0"/><rect x="251.60" y="429.0" width="2.7" height="20.3"/><rect x="261.95" y="394.0" width="2.7" height="62.0"/><rect x="265.40" y="457.5" width="2.7" height="57.3"/><rect x="275.75" y="495.3" width="2.7" height="25.5"/><rect x="279.20" y="520.0" width="2.7" height="24.8"/><rect x="299.90" y="488.8" width="2.7" height="1.0"/><rect x="306.80" y="471.3" width="2.7" height="31.5"/><rect x="310.25" y="502.8" width="2.7" height="6.7"/><rect x="313.70" y="508.0" width="2.7" height="12.0"/><rect x="330.95" y="468.3" width="2.7" height="30.0"/><rect x="334.40" y="498.3" width="2.7" height="15.7"/><rect x="351.65" y="424.8" width="2.7" height="15.7"/><rect x="358.55" y="381.0" width="2.7" height="3.0"/><rect x="365.45" y="363.8" width="2.7" height="18.0"/><rect x="368.90" y="380.3" width="2.7" height="3.0"/><rect x="372.35" y="381.0" width="2.7" height="3.0"/><rect x="379.25" y="331.8" width="2.7" height="5.2"/><rect x="399.95" y="246.5" width="2.7" height="9.8"/><rect x="406.85" y="219.5" width="2.7" height="16.5"/><rect x="413.75" y="196.3" width="2.7" height="21.0"/><rect x="420.65" y="215.0" width="2.7" height="30.8"/><rect x="424.10" y="245.8" width="2.7" height="18.7"/><rect x="431.00" y="244.3" width="2.7" height="7.5"/><rect x="434.45" y="254.6" width="2.7" height="35.9"/><rect x="451.70" y="219.5" width="2.7" height="8.3"/><rect x="455.15" y="229.3" width="2.7" height="25.5"/><rect x="458.60" y="254.8" width="2.7" height="5.2"/><rect x="486.20" y="104.3" width="2.7" height="45.0"/><rect x="493.10" y="115.8" width="2.7" height="24.5"/><rect x="500.00" y="135.0" width="2.7" height="2.3"/><rect x="503.45" y="137.3" width="2.7" height="5.2"/><rect x="510.35" y="128.3" width="2.7" height="5.2"/><rect x="513.80" y="133.5" width="2.7" height="9.0"/><rect x="520.70" y="132.0" width="2.7" height="9.0"/><rect x="524.15" y="141.0" width="2.7" height="36.3"/><rect x="527.60" y="177.3" width="2.7" height="36.0"/><rect x="531.05" y="214.8" width="2.7" height="3.0"/><rect x="534.50" y="216.3" width="2.7" height="38.2"/><rect x="537.95" y="256.3" width="2.7" height="25.0"/><rect x="548.30" y="256.5" width="2.7" height="33.8"/><rect x="562.10" y="260.3" width="2.7" height="13.5"/><rect x="569.00" y="264.8" width="2.7" height="15.0"/><rect x="572.45" y="279.8" width="2.7" height="20.2"/><rect x="575.90" y="299.3" width="2.7" height="34.7"/><rect x="586.25" y="285.8" width="2.7" height="6.7"/><rect x="589.70" y="292.5" width="2.7" height="10.3"/><rect x="600.05" y="259.2" width="2.7" height="32.6"/><rect x="603.50" y="290.3" width="2.7" height="19.3"/><rect x="610.40" y="300.8" width="2.7" height="10.8"/><rect x="613.85" y="311.6" width="2.7" height="24.1"/><rect x="617.30" y="334.4" width="2.7" height="4.0"/><rect x="620.75" y="336.2" width="2.7" height="14.6"/><rect x="627.65" y="333.5" width="2.7" height="17.3"/><rect x="631.10" y="349.8" width="2.7" height="5.2"/><rect x="638.00" y="340.8" width="2.7" height="16.5"/><rect x="648.35" y="327.3" width="2.7" height="9.7"/><rect x="655.25" y="321.3" width="2.7" height="22.5"/><rect x="665.60" y="323.5" width="2.7" height="30.8"/><rect x="669.05" y="353.0" width="2.7" height="6.5"/><rect x="679.40" y="342.3" width="2.7" height="30.7"/><rect x="686.30" y="353.5" width="2.7" height="5.3"/><rect x="689.75" y="361.0" width="2.7" height="15.8"/><rect x="693.20" y="374.5" width="2.7" height="3.0"/><rect x="700.10" y="358.0" width="2.7" height="12.8"/><rect x="703.55" y="369.3" width="2.7" height="22.5"/><rect x="713.90" y="372.3" width="2.7" height="17.2"/><rect x="720.80" y="382.8" width="2.7" height="3.7"/><rect x="727.70" y="352.8" width="2.7" height="25.5"/><rect x="738.05" y="342.3" width="2.7" height="32.2"/><rect x="744.95" y="364.8" width="2.7" height="11.2"/><rect x="748.40" y="376.0" width="2.7" height="19.5"/><rect x="751.85" y="395.5" width="2.7" height="4.5"/><rect x="758.75" y="379.3" width="2.7" height="25.2"/><rect x="765.65" y="391.8" width="2.7" height="34.5"/><rect x="776.00" y="407.3" width="2.7" height="12.3"/><rect x="779.45" y="421.8" width="2.7" height="15.9"/><rect x="793.25" y="391.8" width="2.7" height="15.0"/><rect x="800.15" y="387.3" width="2.7" height="32.4"/><rect x="807.05" y="412.8" width="2.7" height="6.0"/><rect x="810.50" y="418.0" width="2.7" height="5.0"/><rect x="820.85" y="397.0" width="2.7" height="10.5"/><rect x="827.75" y="384.3" width="2.7" height="3.7"/><rect x="831.20" y="388.0" width="2.7" height="9.8"/><rect x="834.65" y="397.0" width="2.7" height="8.3"/><rect x="838.10" y="404.5" width="2.7" height="14.3"/><rect x="845.00" y="403.8" width="2.7" height="32.2"/><rect x="848.45" y="436.3" width="2.7" height="24.7"/><rect x="862.25" y="361.0" width="2.7" height="40.5"/><rect x="865.70" y="400.0" width="2.7" height="91.0"/><rect x="872.60" y="393.0" width="2.7" height="71.8"/><rect x="879.50" y="436.3" width="2.7" height="15.7"/><rect x="882.95" y="456.5" width="2.7" height="6.0"/><rect x="889.85" y="428.5" width="2.7" height="31.0"/><rect x="893.30" y="458.8" width="2.7" height="5.2"/><rect x="907.10" y="364.2" width="2.7" height="3.3"/></g>
</g>
<circle cx="23.8" cy="594" r="15.3" fill="#fff" stroke="#e6e8ec" stroke-width="1.2"/>
<g transform="translate(12.8,586.6) scale(1.0)"><g fill="#38a0ec"><circle cx="3.9" cy="7.9" r="3.2"/><circle cx="9.0" cy="4.9" r="4.4"/><circle cx="17.5" cy="8.5" r="4.0"/><rect x="0.8" y="7.4" width="20.6" height="5.3" rx="2.4"/></g><g fill="none" stroke="#fff" stroke-width="1.25" stroke-linejoin="round" stroke-linecap="round"><polyline points="1.5,11.5 8.2,5.5 13.6,10.4 19.6,3.9"/></g><g fill="#fff"><circle cx="8.2" cy="5.5" r="1.25"/><circle cx="13.6" cy="10.4" r="1.25"/></g></g>
<text x="9.3" y="43.3" font-size="12.5" font-weight="bold" fill="#5d606b" textLength="151.8" lengthAdjust="spacingAndGlyphs">Euro / U.S. Dollar, 1W, IDC</text>
<text x="9.3" y="59.8" font-size="12.5" font-weight="normal" fill="#5d606b" textLength="76.5" lengthAdjust="spacingAndGlyphs">MA (55, close)</text>
<text x="9.3" y="76.4" font-size="12.5" font-weight="normal" fill="#5d606b" textLength="83.5" lengthAdjust="spacingAndGlyphs">MA (200, close)</text>
<text x="9.3" y="92.8" font-size="12.5" font-weight="normal" fill="#5d606b" textLength="90" lengthAdjust="spacingAndGlyphs">ES1!, CME_MINI</text>
<text x="9.3" y="109.2" font-size="12.5" font-weight="normal" fill="#5d606b" textLength="91" lengthAdjust="spacingAndGlyphs">MA (21, close, 0)</text>
<g stroke="#50535e" stroke-width="1"><line x1="0" y1="22.5" x2="1066" y2="22.5"/><line x1="0.5" y1="22" x2="0.5" y2="646"/><line x1="948.5" y1="22" x2="948.5" y2="646"/><line x1="1007.5" y1="22" x2="1007.5" y2="646"/><line x1="1065.5" y1="22" x2="1065.5" y2="646"/><line x1="0" y1="617" x2="1066" y2="617" stroke="#9a9da5" stroke-width="2"/><line x1="0" y1="645.5" x2="1066" y2="645.5"/></g>
<line x1="949" y1="29.50" x2="953" y2="29.50" stroke="#50535e"/><text x="957.5" y="33.60" font-size="12.5" fill="#50535e" textLength="40" lengthAdjust="spacingAndGlyphs">1.28000</text><line x1="949" y1="73.35" x2="953" y2="73.35" stroke="#50535e"/><text x="957.5" y="77.45" font-size="12.5" fill="#50535e" textLength="40" lengthAdjust="spacingAndGlyphs">1.26000</text><line x1="949" y1="117.19" x2="953" y2="117.19" stroke="#50535e"/><text x="957.5" y="121.29" font-size="12.5" fill="#50535e" textLength="40" lengthAdjust="spacingAndGlyphs">1.24000</text><line x1="949" y1="161.04" x2="953" y2="161.04" stroke="#50535e"/><text x="957.5" y="165.14" font-size="12.5" fill="#50535e" textLength="40" lengthAdjust="spacingAndGlyphs">1.22000</text><line x1="949" y1="204.88" x2="953" y2="204.88" stroke="#50535e"/><text x="957.5" y="208.98" font-size="12.5" fill="#50535e" textLength="40" lengthAdjust="spacingAndGlyphs">1.20000</text><line x1="949" y1="248.73" x2="953" y2="248.73" stroke="#50535e"/><text x="957.5" y="252.83" font-size="12.5" fill="#50535e" textLength="40" lengthAdjust="spacingAndGlyphs">1.18000</text><line x1="949" y1="292.58" x2="953" y2="292.58" stroke="#50535e"/><text x="957.5" y="296.68" font-size="12.5" fill="#50535e" textLength="40" lengthAdjust="spacingAndGlyphs">1.16000</text><line x1="949" y1="336.42" x2="953" y2="336.42" stroke="#50535e"/><text x="957.5" y="340.52" font-size="12.5" fill="#50535e" textLength="40" lengthAdjust="spacingAndGlyphs">1.14000</text><line x1="949" y1="380.27" x2="953" y2="380.27" stroke="#50535e"/><text x="957.5" y="384.37" font-size="12.5" fill="#50535e" textLength="40" lengthAdjust="spacingAndGlyphs">1.12000</text><line x1="949" y1="424.11" x2="953" y2="424.11" stroke="#50535e"/><text x="957.5" y="428.21" font-size="12.5" fill="#50535e" textLength="40" lengthAdjust="spacingAndGlyphs">1.10000</text><line x1="949" y1="467.96" x2="953" y2="467.96" stroke="#50535e"/><text x="957.5" y="472.06" font-size="12.5" fill="#50535e" textLength="40" lengthAdjust="spacingAndGlyphs">1.08000</text><line x1="949" y1="511.81" x2="953" y2="511.81" stroke="#50535e"/><text x="957.5" y="515.91" font-size="12.5" fill="#50535e" textLength="40" lengthAdjust="spacingAndGlyphs">1.06000</text><line x1="949" y1="555.65" x2="953" y2="555.65" stroke="#50535e"/><text x="957.5" y="559.75" font-size="12.5" fill="#50535e" textLength="40" lengthAdjust="spacingAndGlyphs">1.04000</text><line x1="949" y1="599.50" x2="953" y2="599.50" stroke="#50535e"/><text x="957.5" y="603.60" font-size="12.5" fill="#50535e" textLength="40" lengthAdjust="spacingAndGlyphs">1.02000</text>
<line x1="1008" y1="44.50" x2="1012" y2="44.50" stroke="#50535e"/><text x="1015.8" y="48.60" font-size="12.5" fill="#50535e" textLength="40.5" lengthAdjust="spacingAndGlyphs">3500.00</text><line x1="1008" y1="76.38" x2="1012" y2="76.38" stroke="#50535e"/><text x="1015.8" y="80.48" font-size="12.5" fill="#50535e" textLength="40.5" lengthAdjust="spacingAndGlyphs">3400.00</text><line x1="1008" y1="108.26" x2="1012" y2="108.26" stroke="#50535e"/><text x="1015.8" y="112.36" font-size="12.5" fill="#50535e" textLength="40.5" lengthAdjust="spacingAndGlyphs">3300.00</text><line x1="1008" y1="140.15" x2="1012" y2="140.15" stroke="#50535e"/><text x="1015.8" y="144.25" font-size="12.5" fill="#50535e" textLength="40.5" lengthAdjust="spacingAndGlyphs">3200.00</text><line x1="1008" y1="172.03" x2="1012" y2="172.03" stroke="#50535e"/><text x="1015.8" y="176.13" font-size="12.5" fill="#50535e" textLength="40.5" lengthAdjust="spacingAndGlyphs">3100.00</text><line x1="1008" y1="203.91" x2="1012" y2="203.91" stroke="#50535e"/><text x="1015.8" y="208.01" font-size="12.5" fill="#50535e" textLength="40.5" lengthAdjust="spacingAndGlyphs">3000.00</text><line x1="1008" y1="235.79" x2="1012" y2="235.79" stroke="#50535e"/><text x="1015.8" y="239.89" font-size="12.5" fill="#50535e" textLength="40.5" lengthAdjust="spacingAndGlyphs">2900.00</text><line x1="1008" y1="267.67" x2="1012" y2="267.67" stroke="#50535e"/><text x="1015.8" y="271.77" font-size="12.5" fill="#50535e" textLength="40.5" lengthAdjust="spacingAndGlyphs">2800.00</text><line x1="1008" y1="299.56" x2="1012" y2="299.56" stroke="#50535e"/><text x="1015.8" y="303.66" font-size="12.5" fill="#50535e" textLength="40.5" lengthAdjust="spacingAndGlyphs">2700.00</text><line x1="1008" y1="331.44" x2="1012" y2="331.44" stroke="#50535e"/><text x="1015.8" y="335.54" font-size="12.5" fill="#50535e" textLength="40.5" lengthAdjust="spacingAndGlyphs">2600.00</text><line x1="1008" y1="363.32" x2="1012" y2="363.32" stroke="#50535e"/><text x="1015.8" y="367.42" font-size="12.5" fill="#50535e" textLength="40.5" lengthAdjust="spacingAndGlyphs">2500.00</text><line x1="1008" y1="395.20" x2="1012" y2="395.20" stroke="#50535e"/><text x="1015.8" y="399.30" font-size="12.5" fill="#50535e" textLength="40.5" lengthAdjust="spacingAndGlyphs">2400.00</text><line x1="1008" y1="427.08" x2="1012" y2="427.08" stroke="#50535e"/><text x="1015.8" y="431.18" font-size="12.5" fill="#50535e" textLength="40.5" lengthAdjust="spacingAndGlyphs">2300.00</text><line x1="1008" y1="458.97" x2="1012" y2="458.97" stroke="#50535e"/><text x="1015.8" y="463.07" font-size="12.5" fill="#50535e" textLength="40.5" lengthAdjust="spacingAndGlyphs">2200.00</text><line x1="1008" y1="490.85" x2="1012" y2="490.85" stroke="#50535e"/><text x="1015.8" y="494.95" font-size="12.5" fill="#50535e" textLength="40.5" lengthAdjust="spacingAndGlyphs">2100.00</text><line x1="1008" y1="522.73" x2="1012" y2="522.73" stroke="#50535e"/><text x="1015.8" y="526.83" font-size="12.5" fill="#50535e" textLength="40.5" lengthAdjust="spacingAndGlyphs">2000.00</text><line x1="1008" y1="554.61" x2="1012" y2="554.61" stroke="#50535e"/><text x="1015.8" y="558.71" font-size="12.5" fill="#50535e" textLength="40.5" lengthAdjust="spacingAndGlyphs">1900.00</text><line x1="1008" y1="586.49" x2="1012" y2="586.49" stroke="#50535e"/><text x="1015.8" y="590.59" font-size="12.5" fill="#50535e" textLength="40.5" lengthAdjust="spacingAndGlyphs">1800.00</text>
<line x1="21.5" y1="618" x2="21.5" y2="621" stroke="#50535e"/><text x="21.5" y="636" font-size="11.5" fill="#50535e" text-anchor="middle" textLength="15" lengthAdjust="spacingAndGlyphs">Jul</text><line x1="111.5" y1="618" x2="111.5" y2="621" stroke="#50535e"/><text x="111.5" y="636" font-size="12.5" fill="#50535e" stroke="#50535e" stroke-width="0.35" text-anchor="middle" textLength="26.5" lengthAdjust="spacingAndGlyphs">2016</text><line x1="201.5" y1="618" x2="201.5" y2="621" stroke="#50535e"/><text x="201.5" y="636" font-size="11.5" fill="#50535e" text-anchor="middle" textLength="15" lengthAdjust="spacingAndGlyphs">Jul</text><line x1="290.5" y1="618" x2="290.5" y2="621" stroke="#50535e"/><text x="290.5" y="636" font-size="12.5" fill="#50535e" stroke="#50535e" stroke-width="0.35" text-anchor="middle" textLength="26.5" lengthAdjust="spacingAndGlyphs">2017</text><line x1="380.5" y1="618" x2="380.5" y2="621" stroke="#50535e"/><text x="380.5" y="636" font-size="11.5" fill="#50535e" text-anchor="middle" textLength="15" lengthAdjust="spacingAndGlyphs">Jul</text><line x1="470.5" y1="618" x2="470.5" y2="621" stroke="#50535e"/><text x="470.5" y="636" font-size="12.5" fill="#50535e" stroke="#50535e" stroke-width="0.35" text-anchor="middle" textLength="26.5" lengthAdjust="spacingAndGlyphs">2018</text><line x1="560.5" y1="618" x2="560.5" y2="621" stroke="#50535e"/><text x="560.5" y="636" font-size="11.5" fill="#50535e" text-anchor="middle" textLength="15" lengthAdjust="spacingAndGlyphs">Jul</text><line x1="653.5" y1="618" x2="653.5" y2="621" stroke="#50535e"/><text x="653.5" y="636" font-size="12.5" fill="#50535e" stroke="#50535e" stroke-width="0.35" text-anchor="middle" textLength="26.5" lengthAdjust="spacingAndGlyphs">2019</text><line x1="739.5" y1="618" x2="739.5" y2="621" stroke="#50535e"/><text x="739.5" y="636" font-size="11.5" fill="#50535e" text-anchor="middle" textLength="15" lengthAdjust="spacingAndGlyphs">Jul</text><line x1="832.5" y1="618" x2="832.5" y2="621" stroke="#50535e"/><text x="832.5" y="636" font-size="12.5" fill="#50535e" stroke="#50535e" stroke-width="0.35" text-anchor="middle" textLength="26.5" lengthAdjust="spacingAndGlyphs">2020</text><line x1="922.5" y1="618" x2="922.5" y2="621" stroke="#50535e"/><text x="922.5" y="636" font-size="11.5" fill="#50535e" text-anchor="middle" textLength="15" lengthAdjust="spacingAndGlyphs">Jul</text>
<circle cx="977.3" cy="631" r="9.6" fill="#eef0f4"/><text x="977.3" y="635.2" font-size="11.5" fill="#6a6d78" text-anchor="middle">A</text>
<circle cx="1035.8" cy="631" r="9.6" fill="#eef0f4"/><text x="1035.8" y="635.2" font-size="11.5" fill="#6a6d78" text-anchor="middle">B</text>
<rect x="948" y="340" width="59" height="19" fill="#009688"/>
<line x1="949" y1="349.5" x2="953" y2="349.5" stroke="#fff"/>
<text x="957.5" y="353.8" font-size="12.5" fill="#fff" stroke="#fff" stroke-width="0.3" textLength="40" lengthAdjust="spacingAndGlyphs">1.13383</text>
<rect x="1007" y="164" width="58" height="19" fill="#ff6d00"/>
<line x1="1008" y1="173.5" x2="1012" y2="173.5" stroke="#fff"/>
<text x="1015.6" y="177.8" font-size="12.5" fill="#fff" stroke="#fff" stroke-width="0.3" textLength="40.5" lengthAdjust="spacingAndGlyphs">3097.25</text>
<text x="0.5" y="13.2" font-size="12.5" font-weight="bold" fill="#131722" textLength="117" lengthAdjust="spacingAndGlyphs">FX_IDC:EURUSD, 1W</text><text x="124.3" y="13.2" font-size="12.5" fill="#2a2e39" textLength="42.3" lengthAdjust="spacingAndGlyphs">1.13383</text><path d="M170.9 13.1 L175.85 4.5 L180.8 13.1 Z" fill="#26a69a"/><text x="185.2" y="13.2" font-size="12.5" fill="#2a2e39" textLength="101.8" lengthAdjust="spacingAndGlyphs">+0.00135 (+0.12%)</text><text x="292" y="13.2" font-size="12.5" font-weight="bold" fill="#131722" textLength="12" lengthAdjust="spacingAndGlyphs">O:</text><text x="306" y="13.2" font-size="12.5" fill="#26a69a" textLength="42.9" lengthAdjust="spacingAndGlyphs">1.12480</text><text x="354.7" y="13.2" font-size="12.5" font-weight="bold" fill="#131722" textLength="10.5" lengthAdjust="spacingAndGlyphs">H:</text><text x="368.5" y="13.2" font-size="12.5" fill="#26a69a" textLength="43.3" lengthAdjust="spacingAndGlyphs">1.13534</text><text x="417" y="13.2" font-size="12.5" font-weight="bold" fill="#131722" textLength="8.5" lengthAdjust="spacingAndGlyphs">L:</text><text x="427.7" y="13.2" font-size="12.5" fill="#26a69a" textLength="44" lengthAdjust="spacingAndGlyphs">1.12268</text><text x="476.4" y="13.2" font-size="12.5" font-weight="bold" fill="#131722" textLength="10" lengthAdjust="spacingAndGlyphs">C:</text><text x="488.2" y="13.2" font-size="12.5" fill="#26a69a" textLength="44" lengthAdjust="spacingAndGlyphs">1.13383</text>
<g transform="translate(-1.2,654.5) scale(1.2)"><g fill="#38a0ec"><circle cx="3.9" cy="7.9" r="3.2"/><circle cx="9.0" cy="4.9" r="4.4"/><circle cx="17.5" cy="8.5" r="4.0"/><rect x="0.8" y="7.4" width="20.6" height="5.3" rx="2.4"/></g><g fill="none" stroke="#fff" stroke-width="1.25" stroke-linejoin="round" stroke-linecap="round"><polyline points="1.5,11.5 8.2,5.5 13.6,10.4 19.6,3.9"/></g><g fill="#fff"><circle cx="8.2" cy="5.5" r="1.25"/><circle cx="13.6" cy="10.4" r="1.25"/></g></g>
<text x="27.3" y="667.2" font-size="12.5" fill="#131722" textLength="68.7" lengthAdjust="spacingAndGlyphs">TradingView</text>
</svg></body></html>
